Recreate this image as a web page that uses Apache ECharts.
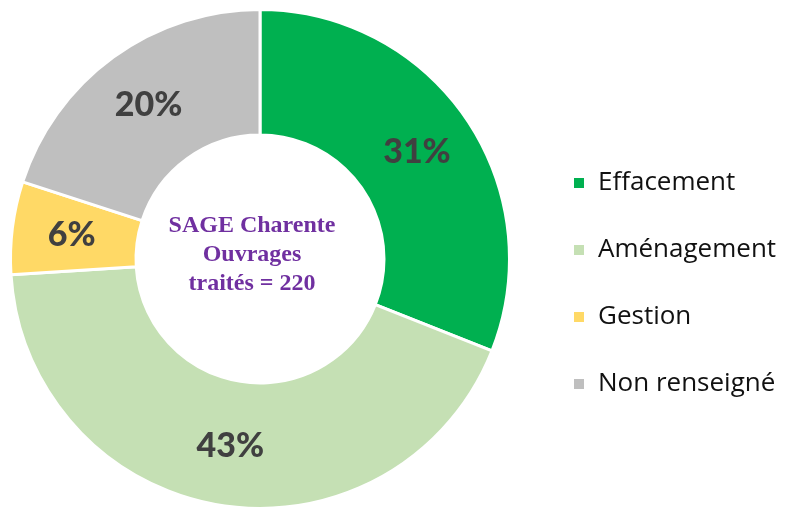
<!DOCTYPE html>
<html>
<head>
<meta charset="utf-8">
<script src="https://cdn.jsdelivr.net/npm/echarts@6/dist/echarts.min.js"></script>
<style>
html,body{margin:0;padding:0;background:#fff;}
#c{width:785px;height:508px;}
</style>
</head>
<body>
<div id="c"></div>
<script>
const categories = ['Effacement', 'Aménagement', 'Gestion', 'Non renseigné'];
const percentages = [31, 43, 6, 20];
const colors = ['#00B050', '#C5E0B4', '#FFD966', '#BFBFBF'];
const centerLines = ['SAGE Charente', 'Ouvrages', 'traités = 220'];

const chart = echarts.init(document.getElementById('c'), null, {renderer: 'canvas'});
const data = categories.map((name, i) => ({
  name: name,
  value: percentages[i],
  itemStyle: {color: colors[i]}
}));

chart.setOption({
  animation: false,
  backgroundColor: '#ffffff',
  legend: {
    orient: 'vertical',
    left: 567,
    top: 163,
    icon: 'rect',
    itemWidth: 12,
    itemHeight: 12,
    itemGap: 37,
    data: categories,
    textStyle: {
      fontFamily: '"Open Sans"',
      fontSize: 26,
      lineHeight: 30,
      color: '#111111',
      padding: [0, 0, 0, 8]
    }
  },
  graphic: [{
    type: 'text',
    x: 252,
    y: 255,
    style: {
      text: centerLines.join('\n'),
      font: 'bold 24px "Liberation Serif"',
      lineHeight: 29,
      fill: '#7030A0',
      align: 'center',
      verticalAlign: 'middle'
    }
  }],
  series: [{
    type: 'pie',
    center: [260, 259],
    radius: [124, 249.5],
    startAngle: 90,
    clockwise: true,
    avoidLabelOverlap: false,
    itemStyle: {borderColor: '#ffffff', borderWidth: 3},
    label: {
      show: true,
      position: 'inside',
      formatter: '{c}%',
      fontFamily: 'Lato',
      fontWeight: 900,
      fontSize: 34,
      color: '#404040'
    },
    labelLine: {show: false},
    emphasis: {disabled: true},
    data: data
  }]
});
</script>
</body>
</html>
